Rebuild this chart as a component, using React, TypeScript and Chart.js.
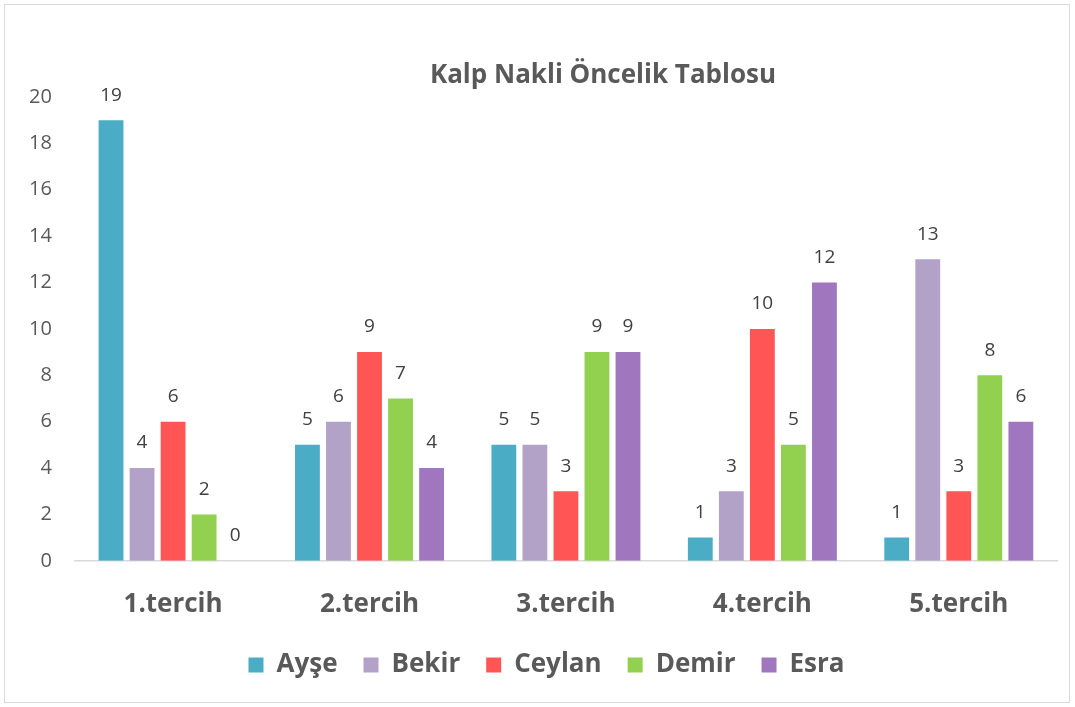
import React, { useEffect, useRef } from "react";
import { Chart, registerables } from "chart.js";

Chart.register(...registerables);

const categories = ["1.tercih", "2.tercih", "3.tercih", "4.tercih", "5.tercih"];
const seriesNames = ["Ayşe", "Bekir", "Ceylan", "Demir", "Esra"];
const ayse = [19, 5, 5, 1, 1];
const bekir = [4, 6, 5, 3, 13];
const ceylan = [6, 9, 3, 10, 3];
const demir = [2, 7, 9, 5, 8];
const esra = [0, 4, 9, 12, 6];
const colors = ["#4BACC6", "#B2A2C7", "#FF5555", "#92D050", "#A077BF"];
const yTicks = [0, 2, 4, 6, 8, 10, 12, 14, 16, 18, 20];
const title = "Kalp Nakli Öncelik Tablosu";

const FONT = "'Open Sans', 'Noto Sans', sans-serif";

const labelPlugin = {
  id: "valueLabels",
  afterDatasetsDraw(chart: any) {
    const ctx = chart.ctx;
    ctx.save();
    ctx.font = `19px ${FONT}`;
    ctx.fillStyle = "#404040";
    ctx.textAlign = "center";
    ctx.textBaseline = "middle";
    chart.data.datasets.forEach((ds: any, i: number) => {
      const meta = chart.getDatasetMeta(i);
      meta.data.forEach((el: any, j: number) => {
        ctx.fillText(String(ds.data[j]), el.x, el.y - 25);
      });
    });
    ctx.restore();
  },
};

const titlePlugin = {
  id: "customTitle",
  afterDraw(chart: any) {
    const ctx = chart.ctx;
    ctx.save();
    ctx.font = `bold 26px ${FONT}`;
    ctx.fillStyle = "#595959";
    ctx.textAlign = "center";
    ctx.textBaseline = "middle";
    ctx.fillText(title, 603, 76);
    ctx.restore();
  },
};

const legendShift = {
  id: "legendShift",
  afterLayout(chart: any) {
    if (chart.legend) {
      chart.legend.left += 15;
      chart.legend.right += 15;
    }
  },
};

export default function App() {
  const ref = useRef<HTMLCanvasElement>(null);
  useEffect(() => {
    const values = [ayse, bekir, ceylan, demir, esra];
    const chart = new Chart(ref.current as HTMLCanvasElement, {
      type: "bar",
      data: {
        labels: categories,
        datasets: seriesNames.map((name, i) => ({
          label: name,
          data: values[i],
          backgroundColor: colors[i],
          borderWidth: 0,
          categoryPercentage: 0.79,
          barPercentage: 0.8,
        })),
      },
      options: {
        animation: false,
        responsive: false,
        maintainAspectRatio: false,
        layout: { padding: { top: 97, left: 6, right: 18, bottom: 19 } },
        plugins: {
          title: { display: false },
          tooltip: { enabled: false },
          legend: {
            position: "bottom",
            labels: {
              boxWidth: 15,
              boxHeight: 15,
              padding: 26,
              color: "#595959",
              font: { family: FONT, size: 26, weight: "bold" },
            },
          },
        },
        scales: {
          x: {
            grid: { display: false, drawTicks: false },
            border: { display: true, color: "#D9D9D9", width: 1.5 },
            ticks: {
              color: "#595959",
              padding: 28,
              font: { family: FONT, size: 26, weight: "bold" },
            },
            afterFit: (axis: any) => {
              axis.height -= 22;
            },
          },
          y: {
            min: 0,
            max: 20,
            afterBuildTicks: (axis: any) => {
              axis.ticks = yTicks.map((v) => ({ value: v }));
            },
            grid: { display: false, drawTicks: false },
            border: { display: false },
            ticks: {
              color: "#595959",
              padding: 23,
              font: { family: FONT, size: 20 },
            },
          },
        },
      },
      plugins: [labelPlugin, titlePlugin, legendShift],
    });
    return () => chart.destroy();
  }, []);
  return (
    <div style={{ position: "fixed", left: 0, top: 0, width: 1075, height: 707, background: "#fff" }}>
      <canvas ref={ref} width={1075} height={707} style={{ position: "absolute", left: 0, top: 0 }} />
      <div
        style={{
          position: "absolute",
          left: 4,
          top: 4,
          width: 1064,
          height: 697,
          border: "1px solid #D9D9D9",
          pointerEvents: "none",
        }}
      />
    </div>
  );
}
